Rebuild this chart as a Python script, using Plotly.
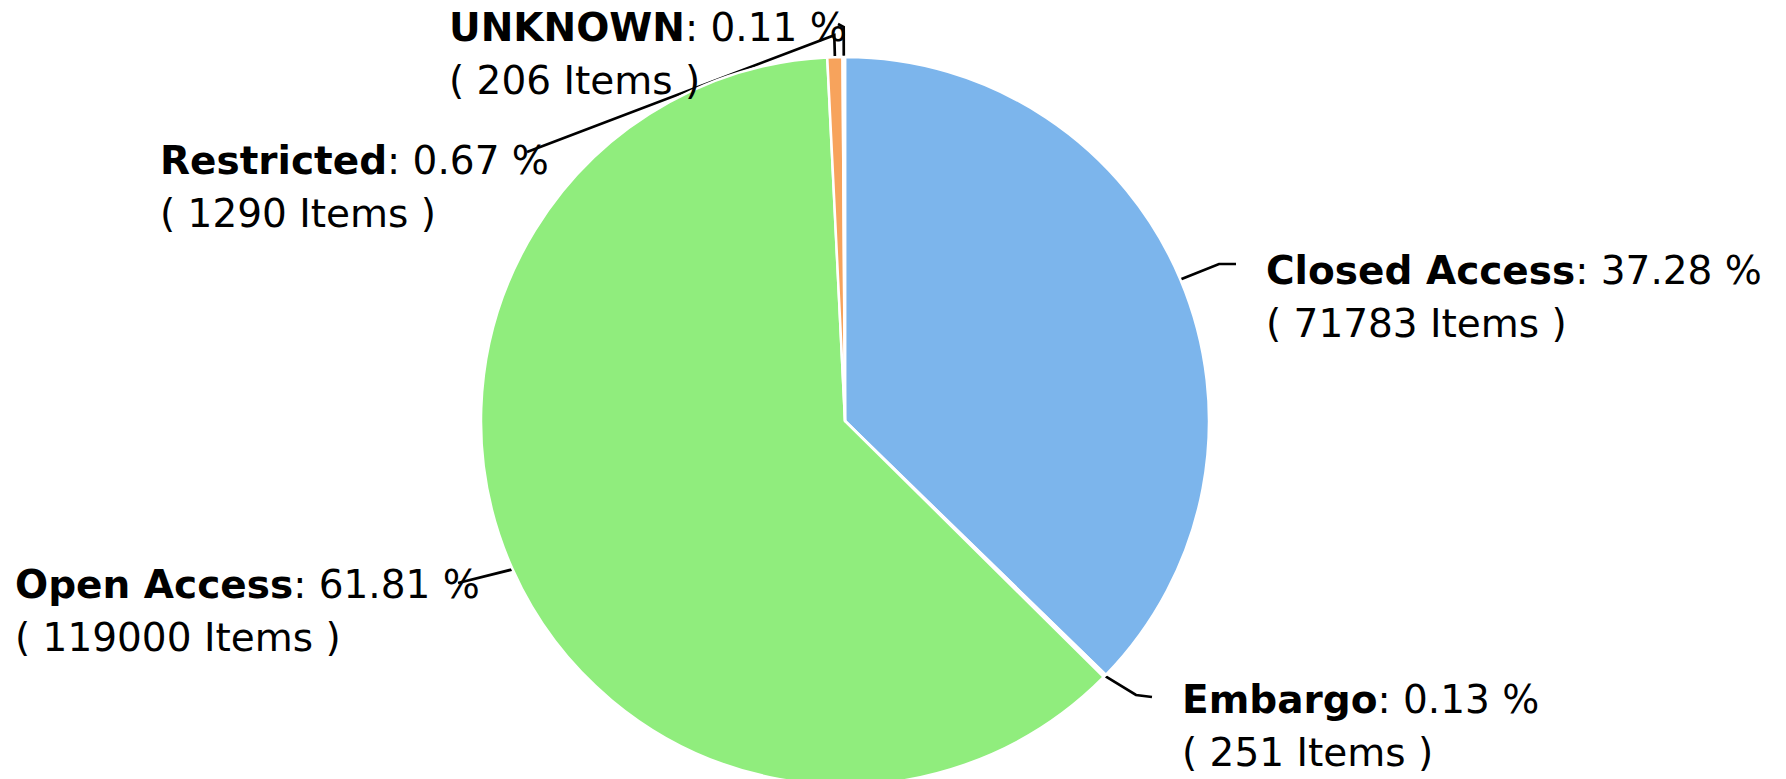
import math
import plotly.graph_objects as go

# ---------------- data ----------------
categories = ["Closed Access", "Embargo", "Open Access", "Restricted", "UNKNOWN"]
items = [71783, 251, 119000, 1290, 206]
colors = ["#7cb5ec", "#ffffff", "#90ed7d", "#f7a35c", "#ffffff"]

# ---------------- layout (window pixels) ----------------
WIN_W, WIN_H = 1786, 779
OFF = 8                      # default page body margin in the written html
FIG_W, FIG_H = WIN_W - OFF, 800
CX, CY, R = 845, 421, 364
FONT = "DejaVu Sans"
FS = 39
LINE_GAP = 53

# left x of label text, centre y of first line
label_pos = {
    "Closed Access": (1264, 270),
    "Embargo": (1180, 699),
    "Open Access": (13, 584),
    "Restricted": (158, 160),
    "UNKNOWN": (447, 27),
}
# connector waypoints after the slice edge point; ("radial", ext) = point beyond edge
connector_via = {
    "Closed Access": [(1219, 264), (1236, 264)],
    "Embargo": [(1136, 695), (1152, 697)],
    "Open Access": [(458, 583)],
    "Restricted": [("radial", 22), (527, 152)],
    "UNKNOWN": [("radial", 30), (838, 24)],
}

total = sum(items)

fig = go.Figure()

fig.add_trace(go.Pie(
    labels=categories,
    values=items,
    sort=False,
    direction="clockwise",
    rotation=0,
    marker=dict(colors=colors, line=dict(color="#ffffff", width=2.5)),
    textinfo="none",
    hoverinfo="label+value+percent",
    showlegend=False,
    domain=dict(
        x=[(CX - R - OFF) / FIG_W, (CX + R - OFF) / FIG_W],
        y=[1 - (CY + R - OFF) / FIG_H, 1 - (CY - R - OFF) / FIG_H],
    ),
))

cum = 0
for name, v in zip(categories, items):
    mid = (cum + v / 2) / total * 2 * math.pi
    cum += v

    def at(rad):
        return CX + rad * math.sin(mid), CY - rad * math.cos(mid)

    pts = [at(R)]
    for p in connector_via[name]:
        if p[0] == "radial":
            pts.append(at(R + p[1]))
        else:
            pts.append(p)
    fig.add_trace(go.Scatter(
        x=[p[0] for p in pts], y=[p[1] for p in pts],
        mode="lines", line=dict(color="#000000", width=2.7),
        hoverinfo="skip", showlegend=False,
    ))

    lx, ly = label_pos[name]
    pct = v / total * 100
    fig.add_annotation(
        x=lx, y=ly, xref="x", yref="y", xanchor="left", yanchor="middle",
        text=f"<b>{name}</b>: {pct:.2f} %", showarrow=False,
        font=dict(family=FONT, size=FS, color="#000000"),
    )
    fig.add_annotation(
        x=lx, y=ly + LINE_GAP, xref="x", yref="y", xanchor="left", yanchor="middle",
        text=f"( {v} Items )", showarrow=False,
        font=dict(family=FONT, size=FS, color="#000000"),
    )

fig.update_layout(
    width=FIG_W, height=FIG_H,
    margin=dict(l=0, r=0, t=0, b=0),
    paper_bgcolor="#ffffff", plot_bgcolor="rgba(0,0,0,0)",
    # axes expressed in window pixel coordinates
    xaxis=dict(range=[OFF, OFF + FIG_W], visible=False, fixedrange=True),
    yaxis=dict(range=[OFF + FIG_H, OFF], visible=False, fixedrange=True),
)

fig.write_html("out.html")
